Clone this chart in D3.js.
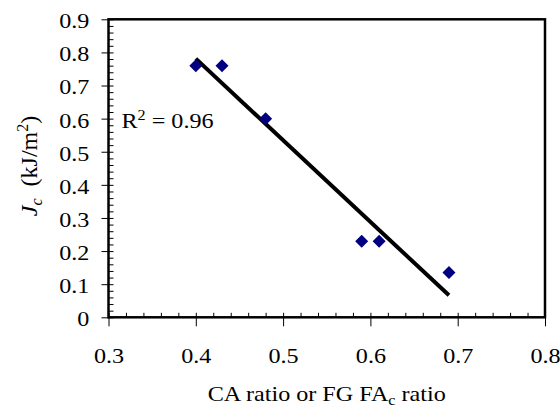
<!DOCTYPE html>
<html>
<head>
<meta charset="utf-8">
<script src="https://cdn.jsdelivr.net/npm/d3@7"></script>
<style>
    body { margin: 0; background: #fff; }
    text { font-family: "Liberation Serif", "Times New Roman", serif; fill: #000; }
</style>
</head>
<body>
<svg id="chart" width="560" height="412"></svg>
<script>
/**
 * Data.
 */
const ratios = [0.40, 0.43, 0.48, 0.59, 0.61, 0.69],
    jcValues = [0.76, 0.76, 0.60, 0.23, 0.23, 0.135];

const xTicks = [0.3, 0.4, 0.5, 0.6, 0.7, 0.8],
    yTicks = [0, 0.1, 0.2, 0.3, 0.4, 0.5, 0.6, 0.7, 0.8, 0.9],
    xMinorTicks = d3.range(15, 41).map(i => i / 50),
    yMinorTicks = d3.range(0, 46).map(i => i / 50);

const r2Text = { base: 'R', sup: '2', rest: ' = 0.96' };

/**
 * Visual configs.
 */
const margin = { top: 19.3, right: 15, bottom: 94.7, left: 108.5 },
    visWidth = 560, visHeight = 412,
    width = visWidth - margin.left - margin.right,
    height = visHeight - margin.top - margin.bottom,
    fontSize = 21,
    sx = 1.15; // the original picture is stretched sideways

const xScale = d3.scaleLinear().domain([0.3, 0.8]).range([0, width]),
    yScale = d3.scaleLinear().domain([0, 0.9]).range([height, 0]);

const svg = d3.select('#chart');
const g = svg.append('g')
    .attr('transform', 'translate(' + margin.left + ',' + margin.top + ')');

/**
 * Axes: minor ticks inside, major ticks crossing.
 */
g.append('g')
    .attr('transform', 'translate(0,' + height + ')')
    .call(d3.axisBottom(xScale).tickValues(xMinorTicks).tickSize(-4.5).tickFormat(''))
    .call(s => s.select('.domain').remove());

g.append('g')
    .call(d3.axisLeft(yScale).tickValues(yMinorTicks).tickSize(-5).tickFormat(''))
    .call(s => s.select('.domain').remove());

const xAxis = g.append('g')
    .attr('transform', 'translate(0,' + height + ')')
    .call(d3.axisBottom(xScale).tickValues(xTicks).tickSize(9).tickFormat(d3.format('')));
xAxis.select('.domain').remove();
xAxis.selectAll('text')
    .attr('y', 46).attr('dy', 0)
    .style('font-size', fontSize + 'px')
    .attr('transform', 'scale(' + sx + ',1)');

const yAxis = g.append('g')
    .call(d3.axisLeft(yScale).tickValues(yTicks).tickSize(7).tickFormat(d3.format('')));
yAxis.select('.domain').remove();
yAxis.selectAll('text')
    .attr('x', -19.2 / sx).attr('dy', '0.4em')
    .style('font-size', fontSize + 'px')
    .attr('transform', 'scale(' + sx + ',1)');

g.selectAll('.tick line').attr('stroke', '#000').attr('stroke-width', 1);

// Plot frame
g.append('rect')
    .attr('width', width)
    .attr('height', height)
    .attr('fill', 'none')
    .attr('stroke', '#000')
    .attr('stroke-width', 2.5);

/**
 * Linear trend line (least squares).
 */
const mx = d3.mean(ratios), my = d3.mean(jcValues);
const slope = d3.sum(ratios, (x, i) => (x - mx) * (jcValues[i] - my)) /
    d3.sum(ratios, x => (x - mx) * (x - mx));
const intercept = my - slope * mx;
const xExt = d3.extent(ratios);

g.append('path')
    .datum(xExt.map(x => [x, intercept + slope * x]))
    .attr('fill', 'none')
    .attr('stroke', '#000')
    .attr('stroke-width', 4)
    .attr('d', d3.line().x(d => xScale(d[0])).y(d => yScale(d[1])));

/**
 * Points.
 */
const r = 6.5;
g.selectAll('.point')
    .data(ratios.map((x, i) => ({ x: x, y: jcValues[i] })))
    .enter().append('path')
    .attr('class', 'point')
    .attr('fill', '#000080')
    .attr('d', d => {
        const cx = xScale(d.x), cy = yScale(d.y);
        return 'M' + cx + ',' + (cy - r) + 'L' + (cx + r) + ',' + cy +
            'L' + cx + ',' + (cy + r) + 'L' + (cx - r) + ',' + cy + 'Z';
    });

/**
 * Texts.
 */
// R squared label
const r2 = svg.append('text')
    .attr('transform', 'translate(121.5,127.5) scale(' + sx + ',1)')
    .style('font-size', fontSize + 'px');
r2.append('tspan').text(r2Text.base);
r2.append('tspan').attr('dy', -8).style('font-size', '14px').text(r2Text.sup);
r2.append('tspan').attr('dy', 8).text(r2Text.rest);

// X axis title
const xTitle = svg.append('text')
    .attr('transform', 'translate(' + (margin.left + width / 2) + ',401) scale(' + sx + ',1)')
    .attr('text-anchor', 'middle')
    .style('font-size', fontSize + 'px');
xTitle.append('tspan').text('CA ratio or FG FA');
xTitle.append('tspan').attr('dy', 4).style('font-size', '14px').text('c');
xTitle.append('tspan').attr('dy', -4).text(' ratio');

// Y axis title
const yTitle = svg.append('text')
    .attr('transform', 'translate(37,166) rotate(-90)')
    .attr('text-anchor', 'middle')
    .style('font-size', '24px');
yTitle.append('tspan').style('font-style', 'italic').text('J');
yTitle.append('tspan').attr('dy', 5).style('font-style', 'italic').style('font-size', '16px').text('c');
yTitle.append('tspan').attr('dy', -5).text('\u00a0\u00a0(kJ/m');
yTitle.append('tspan').attr('dy', -9).style('font-size', '16px').text('2');
yTitle.append('tspan').attr('dy', 9).text(')');
</script>
</body>
</html>
